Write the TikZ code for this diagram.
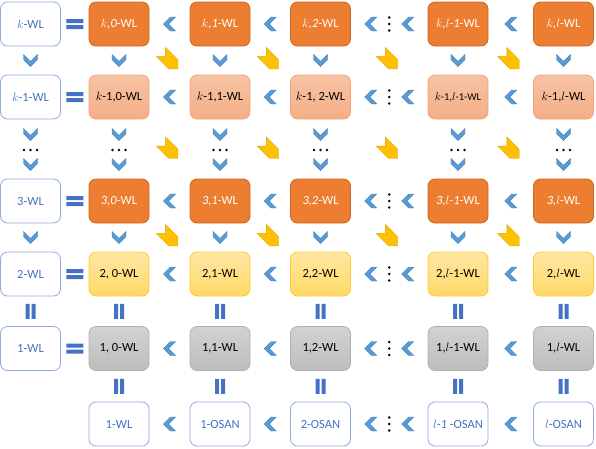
\documentclass[tikz,border=0pt]{standalone}
\usepackage{fontspec}
\setmainfont{Carlito}
\usetikzlibrary{positioning,calc}

\definecolor{naranja}{HTML}{ED7D31}
\definecolor{bordenaranja}{HTML}{C9661F}
\definecolor{salmon}{HTML}{F4AE86}
\definecolor{salmonclaro}{HTML}{F7C3A5}
\definecolor{bordesalmon}{HTML}{F2A477}
\definecolor{amarillo}{HTML}{FFD966}
\definecolor{amarilloclaro}{HTML}{FFE7A3}
\definecolor{bordeamarillo}{HTML}{FFC933}
\definecolor{gris}{HTML}{BDBDBD}
\definecolor{grisclaro}{HTML}{D2D2D2}
\definecolor{bordegris}{HTML}{B0B0B0}
\definecolor{bordeazul}{HTML}{8FAADC}
\definecolor{textoazul}{HTML}{4472C4}
\definecolor{chevazul}{HTML}{5B9BD5}
\definecolor{chevborde}{HTML}{4A86C0}
\definecolor{barraazul}{HTML}{4472C4}
\definecolor{amarilloflecha}{HTML}{FFC000}
\definecolor{bordeflecha}{HTML}{D9A300}

\begin{document}
\begin{tikzpicture}[x=1pt,y=1pt,
    caja/.style={draw,rounded corners=7pt,minimum width=60pt,minimum height=44pt,inner sep=1pt,outer sep=0pt,line width=0.8pt,font=\fontsize{12.5}{14}\selectfont}, %la caja base, las demas la heredan
    azul/.style={caja,draw=bordeazul,fill=white,text=textoazul},
    fila k/.style={caja,draw=bordenaranja,fill=naranja,text=white},
    fila km/.style={caja,draw=bordesalmon,top color=salmonclaro,bottom color=salmon},
    fila dos/.style={caja,draw=bordeamarillo,top color=amarilloclaro,bottom color=amarillo},
    fila uno/.style={caja,draw=bordegris,top color=grisclaro,bottom color=gris},
    pics/flecha/.style={code={\filldraw[fill=chevazul,draw=chevborde,line width=0.4pt] (-6,7) -- (-1,7) -- (6,0) -- (-1,-7) -- (-6,-7) -- (1,0) -- cycle;}}, %chevron que apunta a la derecha, se rota
    pics/diagonal/.style={code={\filldraw[fill=amarilloflecha,draw=bordeflecha,line width=0.4pt,rotate=-45] (-12,6.5) -- (5.5,6.5) -- (12,0) -- (5.5,-6.5) -- (-12,-6.5) -- (-5.5,0) -- cycle;}},
    pics/barras/.style={code={\fill[barraazul] (-#1/2,1) rectangle (#1/2,5) (-#1/2,-5) rectangle (#1/2,-1);}},
    pics/puntos/.style={code={\foreach \d in {-6.5,0,6.5} \fill (\d,0) circle (1.3);}}]
    \useasboundingbox (0,0) rectangle (596,-448);

    %Fila k (la de arriba)
    \node[azul] (kA) at (30.5,-24) {$k$-WL};
    \node[fila k,right=28.5pt of kA] (k0) {\textit{$k$,0}-WL};
    \node[fila k,right=41pt of k0] (k1) {\textit{$k$,1}-WL};
    \node[fila k,right=40.5pt of k1] (k2) {\textit{$k$,2}-WL};
    \node[fila k,right=77.5pt of k2] (klm) {\textit{$k$,$l$-1}-WL};
    \node[fila k,right=45.5pt of klm] (kl) {\textit{$k$,$l$}-WL};

    %Fila k-1
    \node[azul,below=29pt of kA] (kmA) {$k$-1-WL};
    \node[fila km,right=28.5pt of kmA] (km0) {$k$-1,0-WL};
    \node[fila km,right=41pt of km0] (km1) {$k$-1,1-WL};
    \node[fila km,right=40.5pt of km1] (km2) {$k$-1, 2-WL};
    \node[fila km,right=77.5pt of km2,font=\fontsize{10.5}{12}\selectfont] (kmlm) {$k$-1,$l$-1-WL};
    \node[fila km,right=45.5pt of kmlm] (kml) {$k$-1,$l$-WL};

    %los puntitos del medio
    \coordinate[below=31pt of kmA] (ptsA);
    \coordinate[below=31pt of km0] (pts0);
    \coordinate[below=31pt of km1] (pts1);
    \coordinate[below=31pt of km2] (pts2);
    \coordinate[below=31pt of kmlm] (ptslm);
    \coordinate[below=31pt of kml] (ptsl);

    %Fila 3
    \node[azul,below=60pt of kmA] (tresA) {3-WL};
    \node[fila k,right=28.5pt of tresA] (tres0) {\textit{3,0}-WL};
    \node[fila k,right=41pt of tres0] (tres1) {\textit{3,1}-WL};
    \node[fila k,right=40.5pt of tres1] (tres2) {\textit{3,2}-WL};
    \node[fila k,right=77.5pt of tres2] (treslm) {\textit{3,$l$-1}-WL};
    \node[fila k,right=45.5pt of treslm] (tresl) {\textit{3,$l$}-WL};

    %Fila 2
    \node[azul,below=29pt of tresA] (dosA) {2-WL};
    \node[fila dos,right=28.5pt of dosA] (dos0) {2, 0-WL};
    \node[fila dos,right=41pt of dos0] (dos1) {2,1-WL};
    \node[fila dos,right=40.5pt of dos1] (dos2) {2,2-WL};
    \node[fila dos,right=77.5pt of dos2] (doslm) {2,$l$-1-WL};
    \node[fila dos,right=45.5pt of doslm] (dosl) {2,$l$-WL};

    %Fila 1
    \node[azul,below=30.5pt of dosA] (unoA) {1-WL};
    \node[fila uno,right=28.5pt of unoA] (uno0) {1, 0-WL};
    \node[fila uno,right=41pt of uno0] (uno1) {1,1-WL};
    \node[fila uno,right=40.5pt of uno1] (uno2) {1,2-WL};
    \node[fila uno,right=77.5pt of uno2] (unolm) {1,$l$-1-WL};
    \node[fila uno,right=45.5pt of unolm] (unol) {1,$l$-WL};

    %Fila OSAN (no tiene la primera columna)
    \node[azul,below=31.5pt of uno0] (osan0) {1-WL};
    \node[azul,right=41pt of osan0] (osan1) {1-OSAN};
    \node[azul,right=40.5pt of osan1] (osan2) {2-OSAN};
    \node[azul,right=77.5pt of osan2] (osanlm) {\textit{$l$-1} -OSAN};
    \node[azul,right=45.5pt of osanlm] (osanl) {$l$-OSAN};

    %Flechitas horizontales, todas para la izquierda
    \foreach \f in {k,km,tres,dos,uno,osan}{
        \pic[rotate=180] at ($(\f0)!.5!(\f1)$) {flecha};
        \pic[rotate=180] at ($(\f1)!.5!(\f2)$) {flecha};
        \pic[rotate=180] at ($(\f2)!.5!(\f lm)+(-18.5,0)$) {flecha};
        \pic[rotate=90] at ($(\f2)!.5!(\f lm)$) {puntos};
        \pic[rotate=180] at ($(\f2)!.5!(\f lm)+(18.5,0)$) {flecha};
        \pic[rotate=180] at ($(\f lm)!.5!(\f l)$) {flecha};
    }
    %los iguales de la primera columna
    \foreach \f in {k,km,tres,dos,uno}
        \pic at ($(\f A)!.5!(\f0)$) {barras=17};

    %Flechitas para abajo y las barras
    \foreach \c in {A,0,1,2,lm,l}{
        \pic[rotate=-90] at ($(k\c)!.5!(km\c)$) {flecha};
        \pic[rotate=-90] at ($(km\c.south)!.5!(pts\c)$) {flecha};
        \pic at (pts\c) {puntos};
        \pic[rotate=-90] at ($(pts\c)!.5!(tres\c.north)$) {flecha};
        \pic[rotate=-90] at ($(tres\c)!.5!(dos\c)$) {flecha};
        \pic[rotate=90] at ($(dos\c)!.5!(uno\c)$) {barras=15};
    }
    \foreach \c in {0,1,2,lm,l}
        \pic[rotate=90] at ($(uno\c)!.5!(osan\c)$) {barras=15};

    %Las amarillas en diagonal
    \foreach \a/\b in {0/1,1/2,2/lm,lm/l}{
        \pic at ($(k\a)!.5!(km\b)$) {diagonal};
        \pic at ($(pts\a)!.5!(pts\b)$) {diagonal};
        \pic at ($(tres\a)!.5!(dos\b)$) {diagonal};
    }
\end{tikzpicture}
\end{document}
